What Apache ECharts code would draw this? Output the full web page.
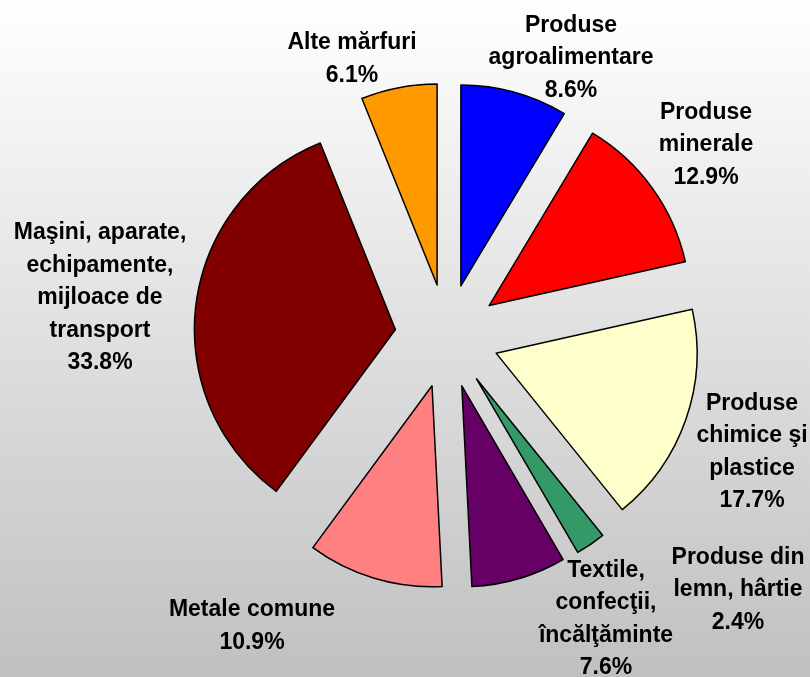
<!DOCTYPE html>
<html>
<head>
<meta charset="utf-8">
<script src="https://cdn.jsdelivr.net/npm/echarts@6/dist/echarts.min.js"></script>
<style>
html,body{margin:0;padding:0;}
#chart{width:810px;height:677px;}
</style>
</head>
<body>
<div id="chart"></div>
<script>
// Data
const categories = [
  'Produse\nagroalimentare',
  'Produse\nminerale',
  'Produse\nchimice şi\nplastice',
  'Produse din\nlemn, hârtie',
  'Textile,\nconfecţii,\nîncălţăminte',
  'Metale comune',
  'Maşini, aparate,\nechipamente,\nmijloace de\ntransport',
  'Alte mărfuri'
];
const values = [8.6, 12.9, 17.7, 2.4, 7.6, 10.9, 33.8, 6.1];
const colors = ['#0000FF', '#FF0000', '#FFFFCC', '#339966', '#660066', '#FF8080', '#800000', '#FF9900'];
// Label anchor points (centre of each label block), in pixels
const labelPos = [[571, 58], [706, 145], [752, 452], [738, 590], [606, 619], [252, 626], [100, 298], [352, 59]];

const chart = echarts.init(document.getElementById('chart'));
const sliceData = categories.map((c, i) => ({
  name: c,
  value: values[i],
  selected: true,
  itemStyle: { color: colors[i] }
}));
const labelData = categories.map((c, i) => ({ name: c, value: values[i] }));
const labelFont = {
  fontFamily: '"Liberation Sans", Arial, sans-serif',
  fontWeight: 'bold',
  fontSize: 23,
  lineHeight: 32.5,
  color: '#000'
};
chart.setOption({
  animation: false,
  backgroundColor: {
    type: 'linear', x: 0, y: 0, x2: 0, y2: 1,
    colorStops: [{ offset: 0, color: '#ffffff' }, { offset: 1, color: '#c0c0c0' }]
  },
  series: [{
    type: 'pie',
    center: [447, 336],
    radius: [0, 201],
    startAngle: 90,
    clockwise: true,
    selectedMode: 'multiple',
    selectedOffset: 52,
    itemStyle: { borderColor: '#000', borderWidth: 1.5 },
    emphasis: { disabled: true },
    select: { itemStyle: { borderColor: '#000', borderWidth: 1.5 }, label: { show: false } },
    label: { show: false },
    labelLine: { show: false },
    data: sliceData
  }, {
    type: 'pie',
    center: [447, 336],
    radius: [0, 201],
    startAngle: 90,
    clockwise: true,
    silent: true,
    selectedMode: false,
    avoidLabelOverlap: false,
    itemStyle: { color: 'rgba(0,0,0,0)', borderWidth: 0 },
    emphasis: { disabled: true },
    label: Object.assign({
      show: true,
      position: 'inside',
      formatter: p => p.name + '\n' + p.value.toFixed(1) + '%',
      align: 'center',
      verticalAlign: 'middle'
    }, labelFont),
    labelLine: { show: false },
    labelLayout: p => ({
      x: labelPos[p.dataIndex][0],
      y: labelPos[p.dataIndex][1],
      align: 'center',
      verticalAlign: 'middle'
    }),
    data: labelData
  }]
});
</script>
</body>
</html>
